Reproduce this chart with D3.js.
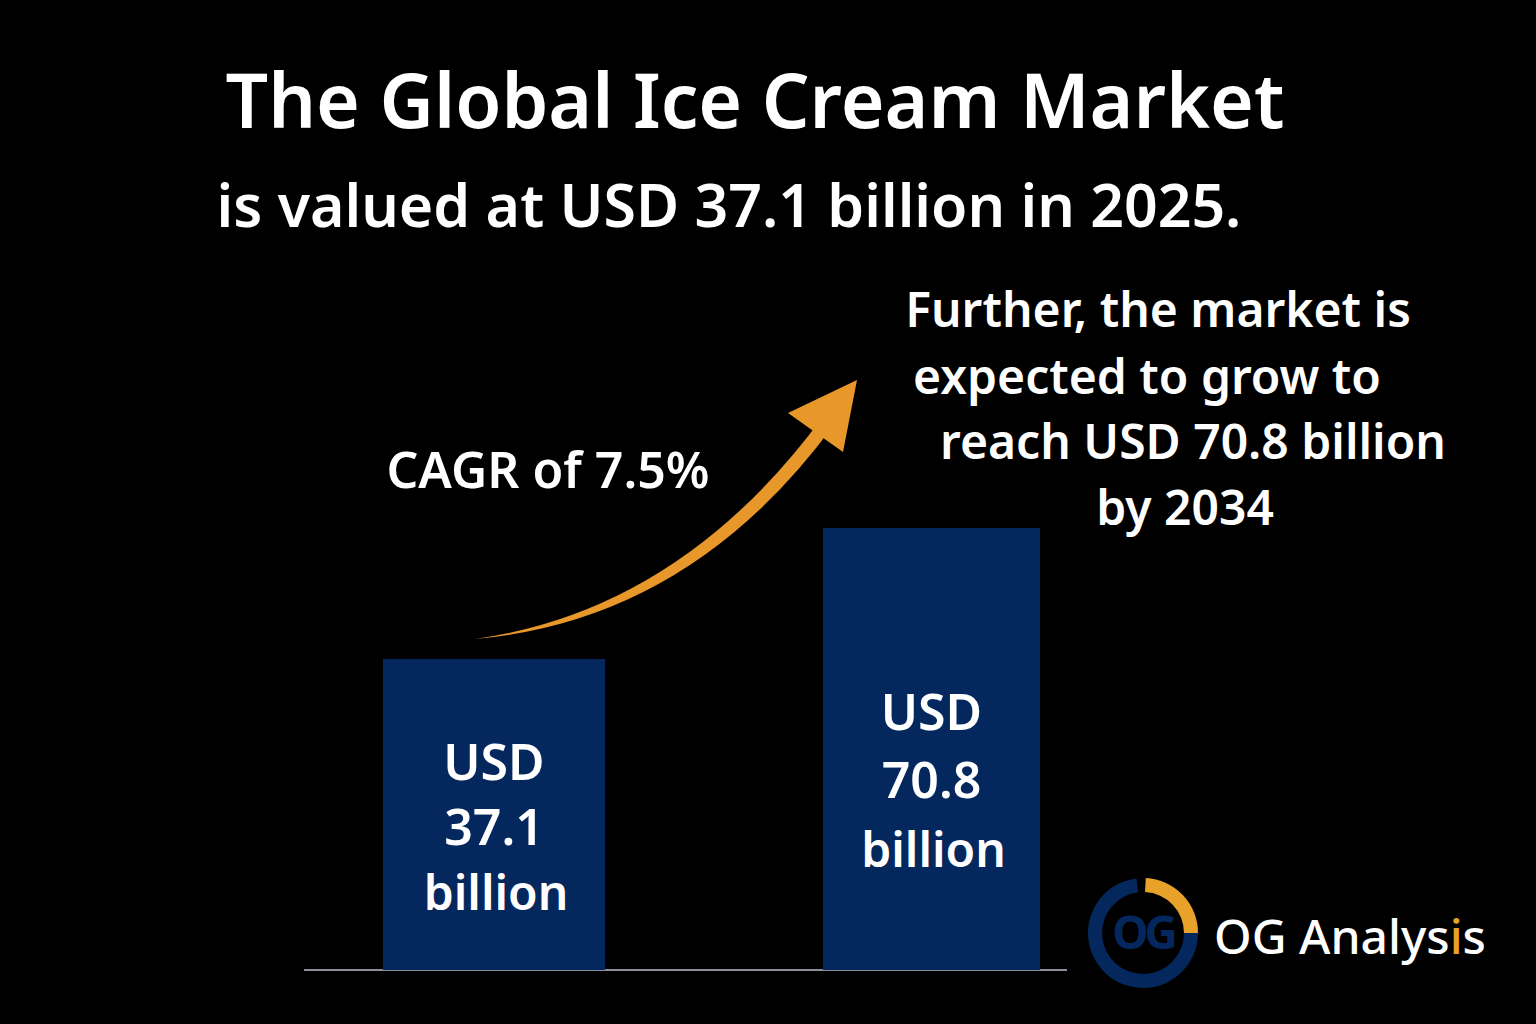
<!DOCTYPE html><html><head><meta charset="utf-8"><script src="https://cdn.jsdelivr.net/npm/d3@7"></script>
<style>body{margin:0;background:#000}</style></head><body><svg id="c" width="1536" height="1024"></svg>
<script>
const categories=["2025","2034"];
const values=[37.1,70.8];
const barLabels=[["USD","37.1","billion"],["USD","70.8","billion"]];
const title="The Global Ice Cream Market";
const subtitle="is valued at USD 37.1 billion in 2025.";
const cagr="CAGR of 7.5%";
const note=["Further, the market is","expected to grow to","reach USD 70.8 billion","by 2034"];

const svg=d3.select("#c");
const F="'Noto Sans', 'Open Sans', sans-serif";
svg.append("rect").attr("width",1536).attr("height",1024).attr("fill","#000");
const x=d3.scaleOrdinal().domain(categories).range([383,823]);
const w=[222,217];
const y=d3.scaleLinear().domain([-42.9,70.8]).range([970,528]);
svg.append("line").attr("x1",304).attr("x2",1067).attr("y1",970).attr("y2",970).attr("stroke","#8a8f9a").attr("stroke-width",2);
svg.selectAll(".bar").data(values).join("rect").attr("x",(d,i)=>x(categories[i])).attr("width",(d,i)=>w[i])
 .attr("y",d=>y(d)).attr("height",d=>y(-42.9)-y(d)).attr("fill","#04285e");
const ly=[[780,845,910],[730,798,867]];
barLabels.forEach((ls,i)=>ls.forEach((t,j)=>svg.append("text").attr("x",x(categories[i])+w[i]/2+(j==2?2:0)).attr("y",ly[i][j])
 .attr("text-anchor","middle").attr("fill","#fff").attr("font-family",F).attr("font-weight",600).attr("font-size",j==2?48:50).text(t)));
svg.append("text").attr("x",755).attr("y",128).attr("text-anchor","middle").attr("fill","#fff").attr("font-family",F).attr("font-weight",600).attr("font-size",75).text(title);
svg.append("text").attr("x",729).attr("y",227).attr("text-anchor","middle").attr("fill","#fff").attr("font-family",F).attr("font-weight",600).attr("font-size",59).text(subtitle);
svg.append("text").attr("x",548).attr("y",488).attr("text-anchor","middle").attr("fill","#fff").attr("font-family",F).attr("font-weight",600).attr("font-size",50).text(cagr);
const nx=[1158,1147,1193,1185],ny=[327,394,459,525];
note.forEach((t,i)=>svg.append("text").attr("x",nx[i]).attr("y",ny[i]).attr("text-anchor","middle").attr("fill","#fff").attr("font-family",F).attr("font-weight",600).attr("font-size",48).text(t));
svg.append("path").attr("fill","#e8982a").attr("d","M475,639 Q680,610 822,418 L833,426 Q690,620 475,639 Z");
svg.append("path").attr("fill","#e8982a").attr("d","M788,413 L857,380 L843,452 Z");
const g=svg.append("g").attr("transform","translate(1143,933)");
const arc=d3.arc().innerRadius(41).outerRadius(55);
g.append("path").attr("d",arc({startAngle:0.05,endAngle:Math.PI/2})).attr("fill","#e8a22a");
g.append("path").attr("d",arc({startAngle:Math.PI/2,endAngle:2*Math.PI-0.12})).attr("fill","#04285e");
g.append("text").attr("x",0).attr("y",16).attr("text-anchor","middle").attr("fill","#04285e").attr("font-family",F).attr("font-weight",700).attr("font-size",46).attr("letter-spacing",-4).text("OG");
const t=svg.append("text").attr("x",1214).attr("y",954).attr("fill","#fff").attr("font-family",F).attr("font-size",48).attr("font-weight",500);
t.append("tspan").text("OG Analys");t.append("tspan").attr("fill","#e8a22a").text("i");t.append("tspan").text("s");
</script></body></html>
